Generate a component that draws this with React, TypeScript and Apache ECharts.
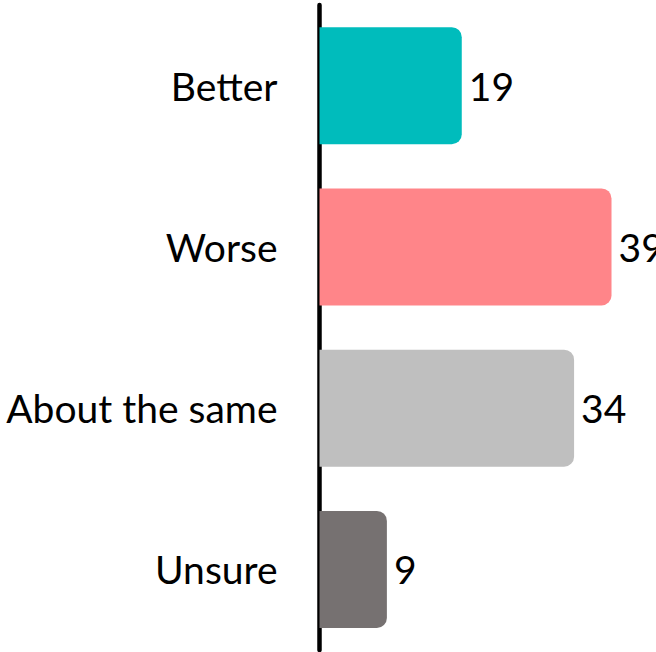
import React, { useEffect, useRef } from "react";
import * as echarts from "echarts";

const categories = ["Better", "Worse", "About the same", "Unsure"];
const values = [19, 39, 34, 9];
const colors = ["#00BCBC", "#FF8589", "#BFBFBF", "#767171"];

export default function App() {
  const ref = useRef<HTMLDivElement>(null);
  useEffect(() => {
    const chart = echarts.init(ref.current!, undefined, { renderer: "svg" });
    const font = "Lato, 'Noto Sans', sans-serif";
    chart.setOption({
      animation: false,
      grid: { left: 319.5, right: 37, top: 5, bottom: 2, containLabel: false },
      xAxis: {
        type: "value",
        min: 0,
        max: 40,
        show: false,
      },
      yAxis: {
        type: "category",
        inverse: true,
        data: categories,
        axisLine: { show: true, lineStyle: { color: "#000", width: 4.5 } },
        axisTick: { show: false },
        axisLabel: { color: "#000", fontSize: 39, fontFamily: font, margin: 42 },
      },
      series: [
        {
          type: "bar",
          barWidth: 117,
          data: values.map((v, i) => ({
            value: v,
            itemStyle: { color: colors[i], borderRadius: [0, 10, 10, 0] },
          })),
          label: {
            show: true,
            position: "right",
            distance: 7,
            color: "#000",
            fontSize: 39,
            fontFamily: font,
          },
        },
      ],
    });
    return () => chart.dispose();
  }, []);
  return <div ref={ref} style={{ width: 656, height: 652, position: "absolute", left: 0, top: 0 }} />;
}
